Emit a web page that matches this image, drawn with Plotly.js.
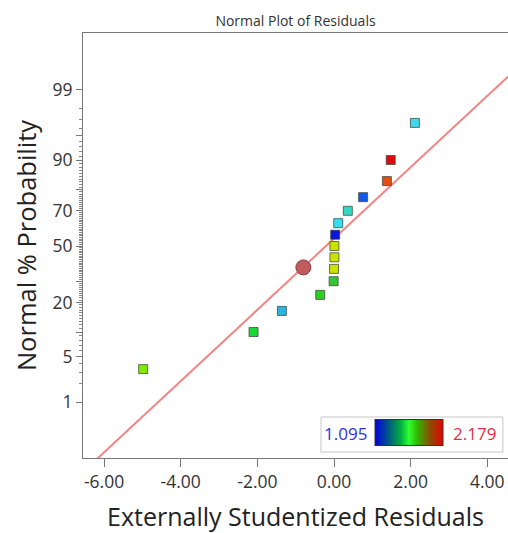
<!DOCTYPE html>
<html>
<head>
<meta charset="utf-8">
<script src="https://cdn.plot.ly/plotly-3.0.1.min.js"></script>
<style>html,body{margin:0;padding:0;background:#fff;}#chart{width:508px;height:533px;}</style>
</head>
<body>
<div id="chart"></div>
<script>
// ---- data ----
const residuals = [-4.98, -2.10, -1.36, -0.36, -0.01, 0.00, 0.01, 0.01, 0.03, 0.11, 0.36, 0.76, 1.38, 1.48, 2.11];
const probabilities = [3.33, 10, 16.67, 23.33, 30, 36.67, 43.33, 50, 56.67, 63.33, 70, 76.67, 83.33, 90, 96.67];
const pointColors = ['#80ea00', '#18d838', '#28b4e4', '#2cd020', '#38c630', '#c8e400', '#c8e400', '#c8e400',
                     '#0a14e0', '#34e0f0', '#34d8c4', '#1458e8', '#e84a12', '#e00a0a', '#40d8ea'];
const selectedResidual = [-0.80];
const selectedProbability = [37.5];
const fitMean = -0.21;
const fitSd = 1.883;
const colorMin = 1.095;
const colorMax = 2.179;
const xTickVals = [-6, -4, -2, 0, 2, 4];
const xTickText = ['-6.00', '-4.00', '-2.00', '0.00', '2.00', '4.00'];
const yTickProbs = [1, 5, 10, 20, 30, 50, 70, 80, 90, 95, 99];
const yTickText = ['1', '5', '', '20', '', '50', '70', '', '90', '', '99'];
const yMinorProbs = [];
for (let p = 2; p <= 98; p++) { if (yTickProbs.indexOf(p) < 0) yMinorProbs.push(p); }

// inverse normal CDF (probability axis scale)
function probit(pct) {
  const p = pct / 100;
  const a = [-3.969683028665376e+01, 2.209460984245205e+02, -2.759285104469687e+02, 1.383577518672690e+02, -3.066479806614716e+01, 2.506628277459239e+00];
  const b = [-5.447609879822406e+01, 1.615858368580409e+02, -1.556989798598866e+02, 6.680131188771972e+01, -1.328068155288572e+01];
  const c = [-7.784894002430293e-03, -3.223964580411365e-01, -2.400758277161838e+00, -2.549732539343734e+00, 4.374664141464968e+00, 2.938163982698783e+00];
  const d = [7.784695709041462e-03, 3.224671290700398e-01, 2.445134137142996e+00, 3.754408661907416e+00];
  const pl = 0.02425, ph = 1 - pl;
  let q, r;
  if (p < pl) { q = Math.sqrt(-2 * Math.log(p)); return (((((c[0]*q+c[1])*q+c[2])*q+c[3])*q+c[4])*q+c[5]) / ((((d[0]*q+d[1])*q+d[2])*q+d[3])*q+1); }
  if (p <= ph) { q = p - 0.5; r = q*q; return (((((a[0]*r+a[1])*r+a[2])*r+a[3])*r+a[4])*r+a[5])*q / (((((b[0]*r+b[1])*r+b[2])*r+b[3])*r+b[4])*r+1); }
  q = Math.sqrt(-2 * Math.log(1 - p)); return -(((((c[0]*q+c[1])*q+c[2])*q+c[3])*q+c[4])*q+c[5]) / ((((d[0]*q+d[1])*q+d[2])*q+d[3])*q+1);
}

const FONT = 'Open Sans, Noto Sans, sans-serif';
const lineX = [-7, 5];
const lineY = lineX.map(x => (x - fitMean) / fitSd);

const traces = [
  { type: 'scatter', mode: 'lines', x: lineX, y: lineY,
    line: { color: '#f28484', width: 2 }, hoverinfo: 'skip', showlegend: false },
  { type: 'scatter', mode: 'markers', x: residuals, y: probabilities.map(probit),
    marker: { symbol: 'square', size: 9, color: pointColors, line: { color: 'rgba(60,70,60,0.75)', width: 1 } },
    showlegend: false },
  { type: 'scatter', mode: 'markers', x: selectedResidual, y: selectedProbability.map(probit),
    marker: { symbol: 'circle', size: 15, color: '#c05c5c', line: { color: '#8a3c3c', width: 1 } },
    showlegend: false },
  { type: 'scatter', mode: 'markers', x: [-100], y: [0], hoverinfo: 'skip', showlegend: false,
    marker: { size: 1, color: [colorMin], cmin: colorMin, cmax: colorMax, showscale: true,
      colorscale: [[0, '#0000e0'], [0.2, '#005a80'], [0.38, '#00b040'], [0.5, '#30ff30'], [0.62, '#30b800'], [0.8, '#885000'], [1, '#e80000']],
      colorbar: { orientation: 'h', x: 0.767, xanchor: 'center', y: 0.059, yanchor: 'middle',
        len: 68, lenmode: 'pixels', thickness: 26, xpad: 0, ypad: 0,
        outlinewidth: 1, outlinecolor: '#333', showticklabels: false, ticks: '' } } }
];

const layout = {
  width: 508, height: 533,
  margin: { l: 83, r: 0, t: 33, b: 75 },
  paper_bgcolor: '#fff', plot_bgcolor: '#fff',
  font: { family: FONT, color: '#333' },
  title: { text: 'Normal Plot of Residuals', font: { family: FONT, size: 14, color: '#333' },
    xref: 'paper', x: 0.5, xanchor: 'center', yref: 'container', y: 0.961, yanchor: 'middle' },
  xaxis: { range: [-6.55, 4.54], tickvals: xTickVals, ticktext: xTickText, ticks: 'outside', ticklen: 8,
    tickcolor: '#777', showline: true, linecolor: '#777', linewidth: 1, mirror: true,
    showgrid: false, zeroline: false, tickfont: { family: FONT, size: 17.5, color: '#333' },
    title: { text: 'Externally Studentized Residuals', font: { family: FONT, size: 25, color: '#222' }, standoff: 18 } },
  yaxis: { range: [-3.159, 3.174], tickvals: yTickProbs.map(probit), ticktext: yTickText, ticks: 'outside', ticklen: 6,
    tickcolor: '#777', showline: true, linecolor: '#777', linewidth: 1,
    minor: { tickvals: yMinorProbs.map(probit), ticks: 'outside', ticklen: 3, tickcolor: '#888' },
    showgrid: false, zeroline: false, tickfont: { family: FONT, size: 17.5, color: '#333' },
    title: { text: 'Normal % Probability', font: { family: FONT, size: 25.5, color: '#222' }, standoff: 8 } },
  shapes: [
    { type: 'rect', xref: 'paper', yref: 'paper', x0: 0.56, x1: 0.988, y0: 0.014, y1: 0.0965,
      fillcolor: '#fff', line: { color: '#c8c8c8', width: 1 }, layer: 'above' }
  ],
  annotations: [
    { xref: 'paper', yref: 'paper', x: 0.617, y: 0.058, text: colorMin.toFixed(3), showarrow: false,
      font: { family: FONT, size: 17, color: '#3030e0' }, xanchor: 'center', yanchor: 'middle' },
    { xref: 'paper', yref: 'paper', x: 0.92, y: 0.058, text: colorMax.toFixed(3), showarrow: false,
      font: { family: FONT, size: 17, color: '#e03040' }, xanchor: 'center', yanchor: 'middle' }
  ]
};

Plotly.newPlot('chart', traces, layout, { displayModeBar: false, staticPlot: true });
</script>
</body>
</html>
